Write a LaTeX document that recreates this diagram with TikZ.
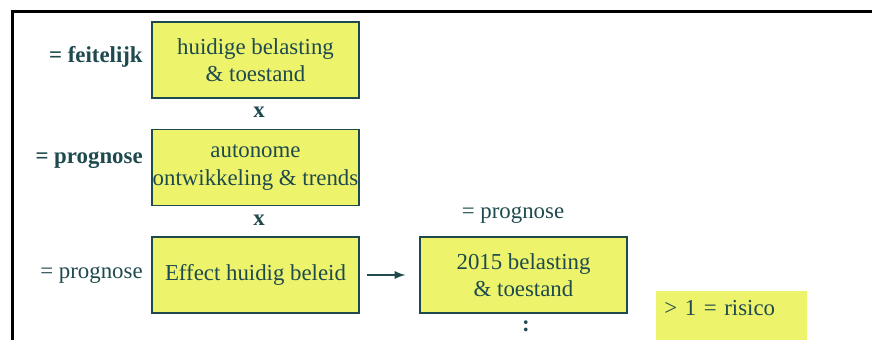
\documentclass[tikz,border=0pt]{standalone}
\usepackage{fontspec}
\setmainfont{LiberationSerif}[Extension=.ttf,UprightFont=*-Regular,BoldFont=*-Bold,
  ItalicFont=*-Italic,BoldItalicFont=*-BoldItalic]
\definecolor{tekst}{RGB}{30,74,78}
\definecolor{geel}{RGB}{238,243,108}
\newcommand{\groot}{\fontsize{13}{15.5}\selectfont}
\tikzset{
  blok/.style={draw=tekst,line width=0.8pt,fill=geel,text=tekst,align=center,
    minimum width=4.14cm,minimum height=1.52cm,inner sep=0pt},
  label/.style={text=tekst,anchor=east,inner sep=0pt},
  maal/.style={text=tekst,font=\groot\bfseries,inner sep=0pt}
}
\begin{document}
\begin{tikzpicture}[x=0.02cm,y=-0.02cm,font=\groot]
\useasboundingbox (0,0) rectangle (872,340);
\draw[line width=1.4pt] (12.5,345) -- (12.5,11.5) -- (880,11.5);
\node[blok] (huidig)at(255.5,60){huidige belasting\\\& toestand};
\node[blok] (autonoom)at(255.5,167.5){autonome\\ontwikkeling \& trends};
\node[blok] (beleid)at(255.5,275){Effect huidig beleid};
\node[blok] (toekomst)at(523.5,275){2015 belasting\\\& toestand};
\node[fill=geel,text=tekst,anchor=north west,minimum width=3.02cm,minimum height=0.98cm,
  text width=2.7cm,inner xsep=0.16cm,inner ysep=0pt,text depth=0.3cm,align=left] (risico)at(656,291){> 1 = risico};
\node[label,font=\groot\bfseries] (feit)at(143,57){= feitelijk};
\node[label,font=\groot\bfseries] (prog1)at(143,160){= prognose};
\node[label] (prog2)at(143,275){= prognose};
\node[text=tekst,inner sep=0pt] (prog3)at(513,215){= prognose};
\node[maal] (x1)at(259,112){x};
\node[maal] (x2)at(259,220){x};
\node[maal] (punt)at(526,326){:};
\draw[->,>=latex,tekst,line width=1.1pt,shorten <=0.14cm,shorten >=0.28cm] (beleid) -- (toekomst);
\end{tikzpicture}
\end{document}
